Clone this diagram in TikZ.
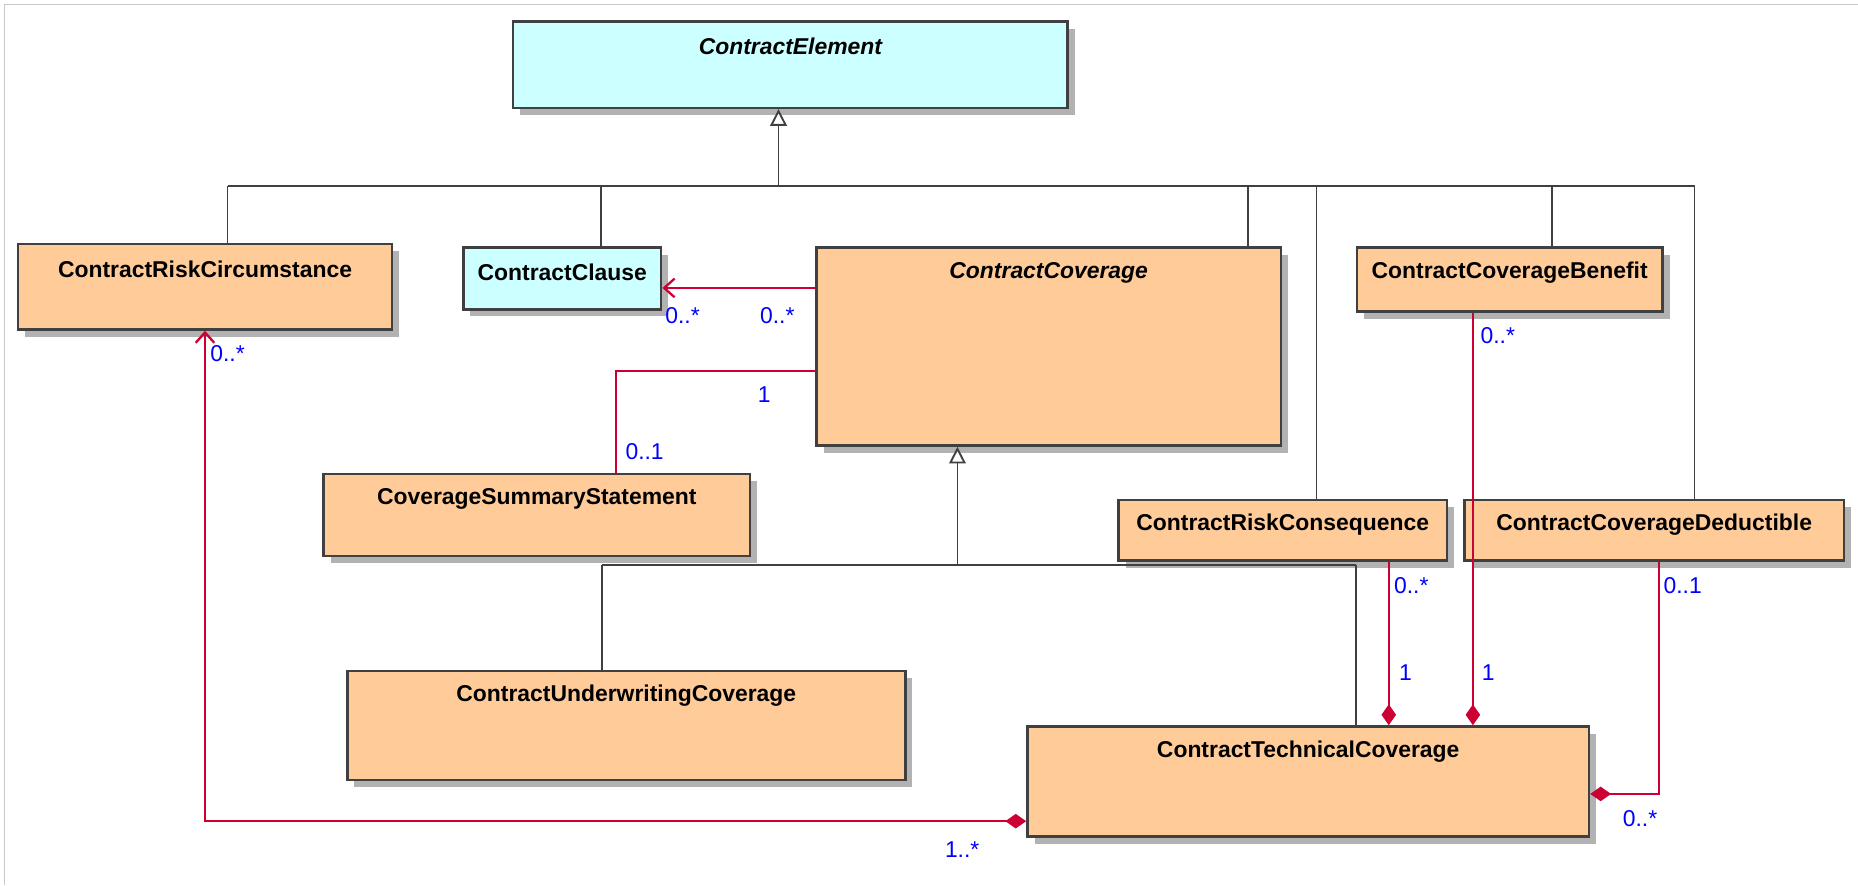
\documentclass[tikz,border=0pt]{standalone}
\usepackage{fontspec}
\setmainfont{Liberation Sans}
\usepackage{tikz}
\usetikzlibrary{positioning,shadows,arrows.meta}

\definecolor{peach}{RGB}{255,204,153}
\definecolor{iceblue}{RGB}{204,255,255}
\definecolor{edge}{RGB}{64,64,64}
\definecolor{shade}{RGB}{178,178,178}
\definecolor{assocred}{RGB}{204,0,51}
\definecolor{multblue}{RGB}{0,0,255}
\definecolor{framegray}{RGB}{200,200,200}

\begin{document}
\begin{tikzpicture}[x=0.02cm,y=-0.02cm,
  cls/.style={draw=edge,line width=1.2pt,anchor=north west,inner sep=0pt,
    drop shadow={shadow xshift=0.12cm,shadow yshift=-0.12cm,fill=shade,opacity=1}},
  ttl/.style={anchor=center,yshift=-0.44cm,font=\bfseries\fontsize{11}{13}\selectfont},
  ittl/.style={ttl,font=\bfseries\itshape\fontsize{11}{13}\selectfont},
  mult/.style={text=multblue,font=\fontsize{11}{13}\selectfont,inner sep=1pt},
  inh/.style={draw=edge,line width=0.9pt},
  assoc/.style={draw=assocred,line width=1.1pt},
  gen/.style={-{Triangle[open,length=8pt,width=8pt,fill=white]}},
  comp/.style={-{Diamond[length=10pt,width=7pt]}},
  nav/.style={-{Straight Barb[length=5pt,width=9pt]}}]
\useasboundingbox (0,0) rectangle (1568,747);
\draw[framegray,line width=0.6pt] (1568,4) -- (4,4) -- (4,747);

% classes
\node[cls,fill=iceblue,minimum width=9.36cm,minimum height=1.46cm,label={[ittl]north:ContractElement}] (CElem) at (432,17) {};
\node[cls,fill=peach,minimum width=6.32cm,minimum height=1.44cm,label={[ttl]north:ContractRiskCircumstance}] (RiskCirc) at (14,205) {};
\node[cls,fill=iceblue,minimum width=3.34cm,minimum height=1.04cm,label={[ttl]north:ContractClause}] (Clause) at (390,208) {};
\node[cls,fill=peach,minimum width=7.84cm,minimum height=3.34cm,label={[ittl]north:ContractCoverage}] (Coverage) at (688,208) {};
\node[cls,fill=peach,minimum width=5.16cm,minimum height=1.08cm,label={[ttl]north:ContractCoverageBenefit}] (Benefit) at (1144,208) {};
\node[cls,fill=peach,minimum width=7.2cm,minimum height=1.38cm,label={[ttl]north:CoverageSummaryStatement}] (Summary) at (272,399) {};
\node[cls,fill=peach,minimum width=5.54cm,minimum height=1.02cm,label={[ttl]north:ContractRiskConsequence}] (RiskCons) at (943,421) {};
\node[cls,fill=peach,minimum width=6.4cm,minimum height=1.02cm,label={[ttl]north:ContractCoverageDeductible}] (Deduct) at (1235,421) {};
\node[cls,fill=peach,minimum width=9.42cm,minimum height=1.84cm,label={[ttl]north:ContractUnderwritingCoverage}] (Underwr) at (292,565) {};
\node[cls,fill=peach,minimum width=9.48cm,minimum height=1.86cm,label={[ttl]north:ContractTechnicalCoverage}] (Technical) at (866,612) {};

% generalisation, top tree
\coordinate (top) at (657,157);
\draw[inh,gen] (top) -- (top |- CElem.south);
\coordinate (b1) at (192,157);
\coordinate (b2) at (507,157);
\coordinate (b3) at (1053,157);
\coordinate (b4) at (1111,157);
\coordinate (b5) at (1310,157);
\coordinate (b6) at (1430,157);
\draw[inh] (b1) -- (b6);
\foreach \b/\n in {b1/RiskCirc,b2/Clause,b3/Coverage,b4/RiskCons,b5/Benefit,b6/Deduct}
  \draw[inh] (\b) -- (\b |- \n.north);

% generalisation, coverage tree
\coordinate (sub) at (808,477);
\draw[inh,gen] (sub) -- (sub |- Coverage.south);
\coordinate (s1) at (508,477);
\coordinate (s2) at (1144,477);
\draw[inh] (s1) -- (s2);
\draw[inh] (s1) -- (s1 |- Underwr.north);
\draw[inh] (s2) -- (s2 |- Technical.north);

% associations
\coordinate (r1) at (0,243);
\draw[assoc,nav] (Coverage.west |- r1) -- (Clause.east |- r1);
\coordinate (r2) at (520,313);
\draw[assoc] (Coverage.west |- r2) -- (r2) -- (r2 |- Summary.north);
\coordinate (r3) at (1243,0);
\draw[assoc,comp] (Benefit.south -| r3) -- (Technical.north -| r3);
\coordinate (r4) at (1172,0);
\draw[assoc,comp] (RiskCons.south -| r4) -- (Technical.north -| r4);
\coordinate (r5) at (1400,670);
\draw[assoc,comp] (Deduct.south -| r5) -- (r5) -- (Technical.east |- r5);
\coordinate (r6) at (173,693);
\draw[assoc,{Diamond[length=10pt,width=7pt]}-{Straight Barb[length=5pt,width=9pt]}] (Technical.west |- r6) -- (r6) -- (r6 |- RiskCirc.south);

% multiplicities
\node[mult] (m1) at (576,266) {0..*};
\node[mult] (m2) at (656,266) {0..*};
\node[mult] (m3) at (645,333) {1};
\node[mult] (m4) at (544,381) {0..1};
\node[mult] (m5) at (192,298) {0..*};
\node[mult] (m6) at (812,717) {1..*};
\node[mult] (m7) at (1264,283) {0..*};
\node[mult] (m8) at (1256,568) {1};
\node[mult] (m9) at (1191,494) {0..*};
\node[mult] (m10) at (1186,568) {1};
\node[mult] (m11) at (1420,494) {0..1};
\node[mult] (m12) at (1384,691) {0..*};

\end{tikzpicture}
\end{document}
